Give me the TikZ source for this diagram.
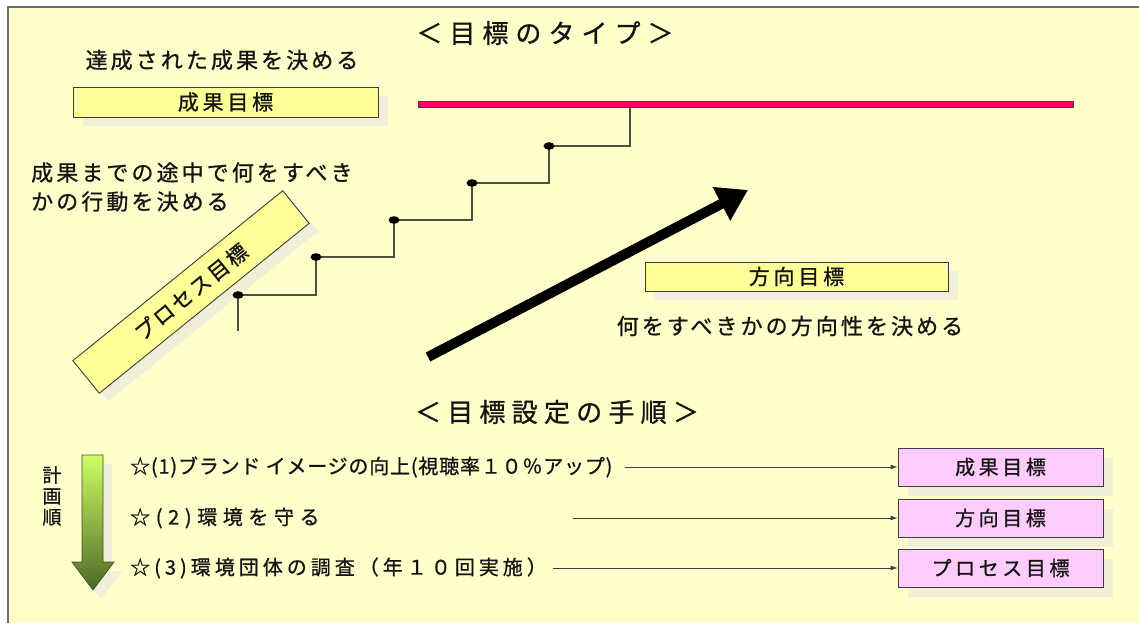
\documentclass[tikz,border=0pt]{standalone}
\usepackage{fontspec}
\setmainfont{Noto Sans CJK JP}[FakeBold=0.8]
\newfontfamily\jpbody[LetterSpace=14,FakeBold=0.8]{Noto Sans CJK JP}
\newfontfamily\jpbox[LetterSpace=18,FakeBold=0.9]{Noto Sans CJK JP}
\newfontfamily\jprot[LetterSpace=12,FakeBold=0.9]{Noto Sans CJK JP}
\newfontfamily\jptitleA[LetterSpace=27,FakeBold=0.9]{Noto Sans CJK JP}
\newfontfamily\jptitleB[LetterSpace=24,FakeBold=0.9]{Noto Sans CJK JP}
\newfontfamily\jprowA[LetterSpace=4,FakeBold=0.8]{Noto Sans CJK JP}
\newfontfamily\jprowB[LetterSpace=28,FakeBold=0.8]{Noto Sans CJK JP}
\newfontfamily\jprowC[LetterSpace=20,FakeBold=0.8]{Noto Sans CJK JP}
\usetikzlibrary{arrows.meta}
\definecolor{bgc}{RGB}{255,255,204}
\definecolor{ybox}{RGB}{255,255,153}
\definecolor{pbox}{RGB}{255,204,255}
\definecolor{shadc}{RGB}{241,239,216}
\definecolor{edgec}{RGB}{60,60,60}
\definecolor{barred}{RGB}{255,0,102}
\definecolor{gtop}{RGB}{204,255,102}
\definecolor{gbot}{RGB}{79,104,38}
\definecolor{stepc}{RGB}{80,80,65}
\definecolor{framec}{RGB}{110,110,110}
\definecolor{txtc}{RGB}{20,20,20}
\begin{document}
\begin{tikzpicture}[x=1pt,y=-1pt,
  yellowbox/.style={draw=edgec, line width=0.9pt, fill=ybox, inner sep=0pt, text=txtc, font=\jpbox\fontsize{21}{23}\selectfont},
  pinkbox/.style={draw=edgec, line width=0.9pt, fill=pbox, inner sep=0pt, text=txtc, minimum width=205pt, minimum height=38pt, font=\jpbox\fontsize{20}{22}\selectfont},
  shadowbox/.style={fill=shadc, draw=none, inner sep=0pt},
  bodytext/.style={inner sep=0pt, text=txtc, font=\jpbody\fontsize{22}{29}\selectfont},
  titletext/.style={inner sep=0pt, text=txtc},
  rowtext/.style={inner sep=0pt, anchor=west, text=txtc},
  stepline/.style={draw=stepc, line width=2pt},
  dot/.style={fill=black},
  thinarrow/.style={draw=edgec, line width=0.9pt, -{Latex[length=7pt,width=5pt]}}
]
\useasboundingbox (0,0) rectangle (1139,623);
% background and frame
\fill[white] (0,0) rectangle (1139,623);
\fill[bgc] (8,7) rectangle (1139,623);
\draw[framec, line width=2pt] (8,623) -- (8,7) -- (1139,7);

% titles
\node[titletext, font=\jptitleA\fontsize{26}{28}\selectfont] (title1) at (545,33) {＜目標のタイプ＞};
\node[titletext, font=\jptitleB\fontsize{26}{28}\selectfont] (title2) at (557,412) {＜目標設定の手順＞};

% result goal
\node[bodytext] (txt1) at (222,60) {達成された成果を決める};
\node[shadowbox, minimum width=305pt, minimum height=30pt] (box1s) at (235,111) {};
\node[yellowbox, minimum width=305pt, minimum height=30pt] (box1) at (225.5,102) {成果目標};

% red bar
\node[draw=edgec, line width=0.8pt, fill=barred, minimum width=655pt, minimum height=6pt, inner sep=0pt] (bar) at (745.5,104.5) {};

% process text
\node[bodytext, anchor=west, align=left] (txt2) at (31,187) {成果までの途中で何をすべき\\かの行動を決める};

% rotated process box
\node[shadowbox, minimum width=270pt, minimum height=42pt, rotate=39] (box2s) at (200,300) {};
\node[yellowbox, font=\jprot\fontsize{21}{23}\selectfont, minimum width=270pt, minimum height=42pt, rotate=39] (box2) at (191,292) {プロセス目標};

% steps
\coordinate (base) at (238,331);
\coordinate (d1) at (238,295);
\coordinate (d2) at (316,257);
\coordinate (d3) at (394,220);
\coordinate (d4) at (472,183);
\coordinate (d5) at (549,146);
\coordinate (d6) at (630,146);
\draw[stepline] (base) -- (d1) -| (d2) -| (d3) -| (d4) -| (d5) -- (d6) -- (d6 |- bar.south);
\foreach \d in {d1,d2,d3,d4,d5} \fill[dot] (\d) ellipse [x radius=5.5pt, y radius=3.8pt];

% direction arrow
\coordinate (a0) at (428,357);
\coordinate (a1) at (748,190);
\draw[line width=10pt, -{Triangle[length=30pt,width=36pt]}] (a0) -- (a1);

% direction box
\node[shadowbox, minimum width=303pt, minimum height=29pt] (box3s) at (806,285) {};
\node[yellowbox, minimum width=303pt, minimum height=29pt] (box3) at (796.5,276.5) {方向目標};
\node[bodytext] (txt3) at (790,326) {何をすべきかの方向性を決める};

% green order arrow
\fill[shadc] (91,464) -- (112,464) -- (112,571) -- (122,571) -- (101,599) -- (81,571) -- (91,571) -- cycle;
\shade[top color=gtop, bottom color=gbot, draw=gbot!80!black, line width=0.7pt]
  (82,455) -- (103,455) -- (103,562) -- (114,562) -- (93,590) -- (72,562) -- (82,562) -- cycle;
\node[inner sep=0pt, align=center, text=txtc, font=\fontsize{19}{21}\selectfont] (order) at (52,496) {計\\画\\順};

% rows
\node[rowtext, font=\jprowA\fontsize{20}{22}\selectfont] (row1) at (130,467) {☆(1)ブランド イメージの向上(視聴率１０％アップ)};
\node[rowtext, font=\jprowB\fontsize{20}{22}\selectfont] (row2) at (130,518) {☆(2)環境を守る};
\node[rowtext, font=\jprowC\fontsize{20}{22}\selectfont] (row3) at (130,568) {☆(3)環境団体の調査（年１０回実施）};

% pink boxes
\node[shadowbox, minimum width=205pt, minimum height=38pt] (p1s) at (1010,477) {};
\node[pinkbox] (p1) at (1000.5,467) {成果目標};
\node[shadowbox, minimum width=205pt, minimum height=38pt] (p2s) at (1010,528) {};
\node[pinkbox] (p2) at (1000.5,518) {方向目標};
\node[shadowbox, minimum width=205pt, minimum height=38pt] (p3s) at (1010,578) {};
\node[pinkbox] (p3) at (1000.5,568) {プロセス目標};

\coordinate (c1) at (625,467);
\coordinate (c2) at (573,518);
\coordinate (c3) at (553,568);
\draw[thinarrow] (c1) -- (p1.west);
\draw[thinarrow] (c2) -- (p2.west);
\draw[thinarrow] (c3) -- (p3.west);
\end{tikzpicture}
\end{document}
